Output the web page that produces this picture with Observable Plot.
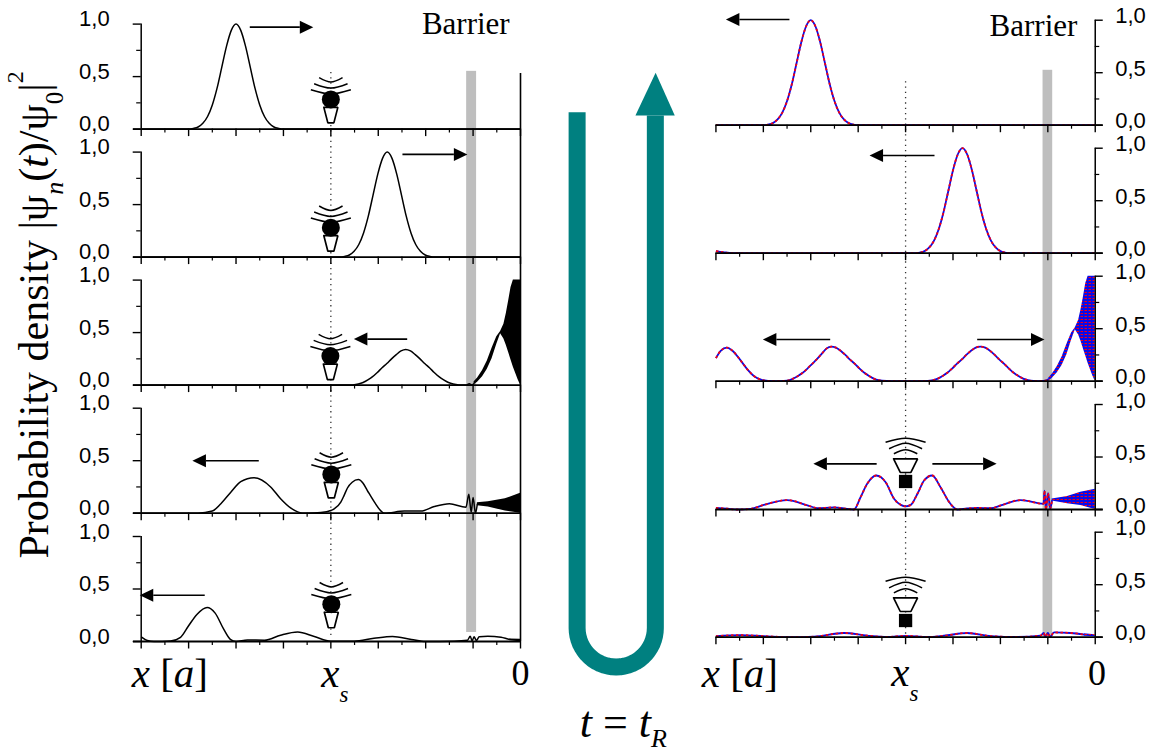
<!DOCTYPE html>
<html>
<head>
<meta charset="utf-8">
<style>html,body{margin:0;padding:0;background:#fff}svg{display:block}</style>
<script src="https://cdn.jsdelivr.net/npm/d3@7"></script>
<script src="https://cdn.jsdelivr.net/npm/@observablehq/plot@0.6"></script>
</head>
<body>
<div id="chart"></div>
<script>
// Probability density curves: [x in a, |psi|^2]
const leftRow0 = [[-8,0],[-7,0],[-6.9,.006],[-6.8,.02],[-6.7,.055],[-6.6,.12],[-6.5,.23],[-6.4,.39],[-6.3,.59],[-6.2,.79],[-6.1,.94],[-6,1],[-5.9,.94],[-5.8,.79],[-5.7,.59],[-5.6,.39],[-5.5,.23],[-5.4,.12],[-5.3,.055],[-5.2,.02],[-5.1,.006],[-5,0],[0,0]];
const leftRow1 = [[-8,0],[-3.81,0],[-3.71,.006],[-3.61,.02],[-3.51,.055],[-3.41,.12],[-3.31,.23],[-3.21,.39],[-3.11,.59],[-3.01,.79],[-2.91,.94],[-2.81,1],[-2.71,.94],[-2.61,.79],[-2.51,.59],[-2.41,.39],[-2.31,.23],[-2.21,.12],[-2.11,.055],[-2.01,.02],[-1.91,.006],[-1.81,0],[0,0]];
const leftRow2 = [[-8,0],[-3.67,0],[-3.54,.002],[-3.42,.01],[-3.32,.025],[-3.22,.05],[-3.12,.08],[-3.02,.12],[-2.92,.165],[-2.82,.205],[-2.72,.25],[-2.62,.29],[-2.52,.325],[-2.42,.34],[-2.32,.325],[-2.22,.29],[-2.12,.25],[-2.02,.205],[-1.92,.165],[-1.82,.12],[-1.72,.08],[-1.62,.05],[-1.52,.025],[-1.42,.01],[-1.3,.002],[-1.15,0],[-1.08,.012],[-1.03,.0],[-.98,.015]];
const leftRow3 = [[-8,0],[-6.8,0],[-6.5,.02],[-6.32,.09],[-6.11,.2],[-5.9,.3],[-5.62,.337],[-5.27,.25],[-5.06,.137],[-4.85,.05],[-4.7,.013],[-4.6,0],[-4.49,0],[-4.21,.006],[-4,.025],[-3.93,.04],[-3.79,.105],[-3.72,.17],[-3.65,.24],[-3.55,.295],[-3.42,.32],[-3.32,.285],[-3.23,.216],[-3.08,.105],[-2.94,.02],[-2.87,0],[-2.45,.02],[-2.1,.02],[-1.82,.063],[-1.5,.09],[-1.15,.057],[-1.09,.18],[-1.04,.01],[-1,.15],[-.95,0],[-.91,.09]];
const leftRow4 = [[-8,.045],[-7.87,.01],[-7.73,0],[-7.38,.005],[-7.17,.04],[-7,.15],[-6.82,.26],[-6.61,.324],[-6.44,.27],[-6.26,.117],[-6.12,.02],[-6,0],[-5.76,.015],[-5.4,.012],[-5.06,.06],[-4.7,.09],[-4.35,.048],[-4,.003],[-3.51,.003],[-3.09,.03],[-2.7,.048],[-2.3,.02],[-2,0],[-1.4,.003],[-1.12,.012],[-1.06,.05],[-1.02,.005],[-.98,.045],[-.93,.01],[-.87,.045],[-.69,.05],[-.41,.04],[-.23,.02],[0,.012]];
const rightRow0 = [[-8,0],[-7,0],[-6.9,.006],[-6.8,.02],[-6.7,.055],[-6.6,.12],[-6.5,.23],[-6.4,.39],[-6.3,.59],[-6.2,.79],[-6.1,.94],[-6,1],[-5.9,.94],[-5.8,.79],[-5.7,.59],[-5.6,.39],[-5.5,.23],[-5.4,.12],[-5.3,.055],[-5.2,.02],[-5.1,.006],[-5,0],[0,0]];
const rightRow1 = [[-8,.02],[-7.85,.01],[-7.65,0],[-3.8,0],[-3.7,.006],[-3.6,.02],[-3.5,.055],[-3.4,.12],[-3.3,.23],[-3.2,.39],[-3.1,.59],[-3,.79],[-2.9,.94],[-2.8,1],[-2.7,.94],[-2.6,.79],[-2.5,.59],[-2.4,.39],[-2.3,.23],[-2.2,.12],[-2.1,.055],[-2,.02],[-1.9,.006],[-1.8,0],[0,0]];
const rightRow2 = [[-8,.22],[-7.9,.29],[-7.77,.32],[-7.65,.29],[-7.5,.21],[-7.35,.12],[-7.2,.05],[-7.05,.015],[-6.9,.003],[-6.7,0],[-6.57,.002],[-6.45,.01],[-6.37,.025],[-6.27,.05],[-6.17,.08],[-6.07,.12],[-5.97,.165],[-5.87,.21],[-5.77,.26],[-5.67,.31],[-5.57,.33],[-5.47,.32],[-5.37,.29],[-5.27,.25],[-5.17,.205],[-5.07,.165],[-4.97,.12],[-4.87,.08],[-4.77,.05],[-4.67,.025],[-4.57,.01],[-4.4,.002],[-4.2,0],[-3.67,0],[-3.54,.002],[-3.42,.01],[-3.32,.025],[-3.22,.05],[-3.12,.08],[-3.02,.12],[-2.92,.165],[-2.82,.205],[-2.72,.25],[-2.62,.29],[-2.52,.32],[-2.42,.33],[-2.32,.32],[-2.22,.29],[-2.12,.25],[-2.02,.205],[-1.92,.165],[-1.82,.12],[-1.72,.08],[-1.62,.05],[-1.52,.025],[-1.42,.01],[-1.3,.002],[-1.15,0],[-1.03,.008],[-.98,.02]];
const rightRow3 = [[-8,.015],[-7.76,.008],[-7.55,0],[-7.27,.006],[-6.99,.044],[-6.5,.09],[-6.07,.04],[-5.86,.013],[-5.51,.02],[-5.23,.006],[-5.09,0],[-4.95,.117],[-4.81,.245],[-4.62,.324],[-4.42,.26],[-4.24,.1],[-4.1,.044],[-4,.03],[-3.89,.044],[-3.75,.15],[-3.61,.276],[-3.44,.324],[-3.26,.21],[-3.08,.07],[-2.91,0],[-2.7,.01],[-2.49,.015],[-2.2,.012],[-1.99,.04],[-1.57,.09],[-1.09,.054],[-1.07,.18],[-1.04,0],[-.995,.155],[-.95,.01],[-.91,.09]];
const rightRow4 = [[-8,.01],[-7.48,.02],[-6.99,.01],[-6.42,0],[-5.93,.005],[-5.3,.04],[-4.81,.015],[-4.39,.002],[-4,.013],[-3.54,.002],[-3.19,.014],[-2.7,.04],[-2.2,.01],[-1.64,.002],[-1.15,.015],[-1.09,.04],[-1.05,.005],[-1,.04],[-.95,.005],[-.87,.045],[-.52,.04],[-.23,.025]];

// Dense oscillation regions, as envelopes: [x, lower, upper]
const band2 = [[-.98,0,.03],[-.9,.03,.07],[-.8,.08,.14],[-.7,.15,.23],[-.6,.25,.35],[-.5,.39,.46],[-.42,.49,.51],[-.35,.44,.58],[-.3,.38,.68],[-.25,.31,.8],[-.2,.24,.93],[-.15,.17,1],[-.1,.11,1],[-.05,.05,1],[0,0,1]];
const leftBand3 = [[-.91,.07,.1],[-.68,.06,.11],[-.32,.02,.137],[0,0,.19]];
const leftBand4 = [[-.23,.012,.025],[0,.004,.022]];
const rightBand3 = [[-.91,.08,.1],[-.584,.054,.124],[-.305,.038,.165],[0,0,.194]];
const rightBand4 = [[-.23,.008,.032],[0,.004,.024]];

const yTickLabels = [[0,"0,0"],[.5,"0,5"],[1,"1,0"]];
const minorY = [.25,.75];
const majorX = [-8,-7,-6,-5,-4,-3,-2,-1,0];
const minorX = [-7.5,-6.5,-5.5,-4.5,-3.5,-2.5,-1.5,-.5];

// Layout of the figure, in data units of the bottom left panel
const colShift = [0, 12.122];
const rowShift = [[4.88,3.661,2.442,1.222,0],[4.917,3.698,2.479,1.257,.041]];
const pxX = 47.4, pxY = 105;   // pixels per data unit

const place = (c,r,pts) => pts.map(([x,v]) => ({x:x+colShift[c], y:v+rowShift[c][r]}));
const placeBand = (c,r,pts) => pts.map(([x,a,b]) => ({x:x+colShift[c], y1:a+rowShift[c][r], y2:b+rowShift[c][r]}));

const leftCurves = [leftRow0,leftRow1,leftRow2,leftRow3,leftRow4];
const rightCurves = [rightRow0,rightRow1,rightRow2,rightRow3,rightRow4];
const leftLines = leftCurves.flatMap((p,r)=>place(0,r,p).map(d=>({...d,z:r})));
const rightLines = rightCurves.flatMap((p,r)=>place(1,r,p).map(d=>({...d,z:r})));
const lineOpt = {x:"x",y:"y",z:"z",curve:"monotone-x",strokeLinecap:"butt"};

const rows = [0,1,2,3,4];
const ticks = [];   // axis frames built from the tick lists
const hRules = [], vRules = [];
for (const c of [0,1]) for (const r of rows) {
  const s = colShift[c], o = rowShift[c][r];
  const major = 7.5/pxY, minor = 4/pxY;
  hRules.push({x1:(c?-8:-8-7.7/pxX)+s, x2:(c?8/pxX:0)+s, y:o, w:1.8});
  for (const x of majorX) vRules.push({x:x+s,y1:o-major,y2:o,w:1.4});
  for (const x of minorX) vRules.push({x:x+s,y1:o-minor,y2:o,w:1.2});
  const ax = (c?0:-8)+s, sgn = c?1:-1;
  vRules.push({x:ax,y1:o,y2:o+1,w:1.5});
  for (const [v] of yTickLabels) hRules.push({x1:ax,x2:ax+sgn*8/pxX,y:o+v,w:1.4});
  for (const v of minorY) hRules.push({x1:ax,x2:ax+sgn*4.5/pxX,y:o+v,w:1.2});
  for (const [v,t] of yTickLabels) ticks.push({x:ax,y:o+v,t,c});
}
vRules.push({x:0,y1:0,y2:5.41,w:1.6});

// Arrows: [column, row, tail x, tip x, level]
const arrows = [[0,0,-5.71,-4.37,.971],[0,1,-2.49,-1.12,.978],[0,2,-2.39,-3.515,.438],[0,3,-5.52,-6.92,.5],[0,4,-6.66,-8.03,.44],
  [1,0,-6.45,-7.79,1.007],[1,1,-3.39,-4.76,.93],[1,2,-5.59,-7.01,.397],[1,2,-2.49,-1.07,.397],[1,3,-4.61,-5.945,.435],[1,3,-3.435,-2.08,.435]];
const shafts = [], heads = [];
arrows.forEach(([c,r,a,b,v],i)=>{
  const s=colShift[c], o=rowShift[c][r]+v, dir=Math.sign(b-a), L=13.5/pxX, H=6.5/pxY;
  shafts.push({x:a+s,y:o,z:i},{x:b+s-dir*L,y:o,z:i});
  heads.push({x:b+s,y:o,z:i},{x:b+s-dir*L,y:o+H,z:i},{x:b+s-dir*L,y:o-H,z:i});
});

// Source icons: [column, row, x, level]
const lampIcons = [[0,0,-4,.283],[0,1,-4,.28],[0,2,-4.01,.276],[0,3,-3.99,.369],[0,4,-3.99,.355]];
const speakerIcons = [[1,3,-4,.267],[1,4,-4,.159]];
const lampArcs = [[-11.7,-21.7,0,-17.3,11.7,-21.7],[-16.7,-15.7,0,-11.3,16.7,-15.7],[-20,-9.7,0,-5.5,20,-9.7]];
const speakerArcs = [[-11.7,-27.7,0,-31.7,11.7,-27.7],[-16.5,-32.7,0,-38.3,16.5,-32.7],[-20,-39.3,0,-43.3,20,-39.3]];
const lampCone = [[-7,8],[7,8],[3,23.5],[-3,23.5],[-7,8]];
const speakerCone = [[-12,-22.7],[12,-22.7],[5.3,-9],[-5.3,-9],[-12,-22.7]];
const offs = (c,r,x,v,dx,dy) => ({x:x+colShift[c]+dx/pxX, y:v+rowShift[c][r]-dy/pxY});
const arcPts = [], conePts = [], circles = [], squares = [];
let id=0;
for (const [c,r,x,v] of lampIcons) {
  circles.push(offs(c,r,x,v,0,0));
  for (const a of lampArcs) { id++; [0,2,4].forEach(i=>arcPts.push({...offs(c,r,x,v,a[i],a[i+1]),z:id})); }
  id++; lampCone.forEach(p=>conePts.push({...offs(c,r,x,v,p[0],p[1]),z:id}));
}
for (const [c,r,x,v] of speakerIcons) {
  squares.push(offs(c,r,x,v,0,0));
  for (const a of speakerArcs) { id++; [0,2,4].forEach(i=>arcPts.push({...offs(c,r,x,v,a[i],a[i+1]),z:id})); }
  id++; speakerCone.forEach(p=>conePts.push({...offs(c,r,x,v,p[0],p[1]),z:id}));
}

// Time arrow between the columns: a U-shaped pictogram, not data
const teal = "#008080";
const uCx = 2.019, uRx = .825, uCy = .129, uRy = .372;
const uBend = d3.range(180,-1,-6).map(a=>[uCx+uRx*Math.cos(a*Math.PI/180), uCy-uRy*Math.sin(a*Math.PI/180)]);
const uPath = [[uCx-uRx,5.041],...uBend,[uCx+uRx,5.01]];
const uHead = [[2.424,5.01],[3.254,5.01],[2.85,5.416]];

const serif = "Liberation Serif", sans = "Liberation Sans";
const defs = () => {
  const d = d3.create("svg:defs");
  const p = d.append("pattern").attr("id","rb").attr("patternUnits","userSpaceOnUse").attr("width",4).attr("height",3);
  p.append("rect").attr("width",4).attr("height",3).attr("fill","#0a0ae6");
  p.append("rect").attr("x",.5).attr("y",1).attr("width",2.5).attr("height",1).attr("fill","#f5000f");
  return d.node();
};

const lbl = (data,o) => Plot.text(data,{x:"x",y:"y",text:"t",lineAnchor:"bottom",textAnchor:"start",fill:"black",...o});

const chart = Plot.plot({
  width:1168, height:754, margin:0,
  x:{domain:[-8,0],range:[140.7,520],axis:null},
  y:{domain:[0,1],range:[641,536],axis:null},
  style:{background:"#fff"},
  marks:[
    defs,
    Plot.rect([{x1:-1.136,x2:-.926,y1:.086,y2:5.43},{x1:-1.101+12.122,x2:-.897+12.122,y1:.04,y2:5.44}],{x1:"x1",x2:"x2",y1:"y1",y2:"y2",fill:"#bebebe"}),
    Plot.ruleX([{x:-4,y1:.057,y2:5.43},{x:-4+12.122,y1:.07,y2:5.362}],{x:"x",y1:"y1",y2:"y2",stroke:"#333",strokeWidth:1.3,strokeDasharray:"1.3,4"}),
    // probability curves
    Plot.line(leftLines,{...lineOpt,stroke:"black",strokeWidth:1.5}),
    Plot.areaY(placeBand(0,2,band2),{x:"x",y1:"y1",y2:"y2",fill:"black"}),
    Plot.areaY(placeBand(0,3,leftBand3),{x:"x",y1:"y1",y2:"y2",fill:"black"}),
    Plot.areaY(placeBand(0,4,leftBand4),{x:"x",y1:"y1",y2:"y2",fill:"black"}),
    Plot.line(rightLines,{...lineOpt,stroke:"#0a0ae6",strokeWidth:1.8}),
    Plot.line(rightLines,{...lineOpt,stroke:"#f5000f",strokeWidth:1.8,strokeDasharray:"2.5,2.5"}),
    Plot.areaY(placeBand(1,2,band2),{x:"x",y1:"y1",y2:"y2",fill:"url(#rb)"}),
    Plot.areaY(placeBand(1,3,rightBand3),{x:"x",y1:"y1",y2:"y2",fill:"url(#rb)"}),
    Plot.areaY(placeBand(1,4,rightBand4),{x:"x",y1:"y1",y2:"y2",fill:"url(#rb)"}),
    // axes
    Plot.ruleY(hRules,{y:"y",x1:"x1",x2:"x2",stroke:"black",strokeWidth:"w"}),
    Plot.ruleX(vRules,{x:"x",y1:"y1",y2:"y2",stroke:"black",strokeWidth:"w"}),
    lbl(ticks.filter(d=>d.c===0),{textAnchor:"end",lineAnchor:"middle",dx:-31.5,dy:-5,fontFamily:sans,fontSize:22}),
    lbl(ticks.filter(d=>d.c===1),{textAnchor:"start",lineAnchor:"middle",dx:20,dy:-4,fontFamily:sans,fontSize:22}),
    // icons
    Plot.line(arcPts,{x:"x",y:"y",z:"z",curve:"natural",stroke:"black",strokeWidth:1.5,strokeLinecap:"butt"}),
    Plot.line(conePts,{x:"x",y:"y",z:"z",stroke:"black",strokeWidth:1.7,fill:"white",strokeLinejoin:"miter"}),
    Plot.dot(circles,{x:"x",y:"y",r:9,fill:"black"}),
    Plot.dot(squares,{x:"x",y:"y",r:7.5,symbol:"square",fill:"black"}),
    // arrows
    Plot.line(shafts,{x:"x",y:"y",z:"z",stroke:"black",strokeWidth:1.6,strokeLinecap:"butt"}),
    Plot.line(heads,{x:"x",y:"y",z:"z",fill:"black",stroke:"none"}),
    // time arrow
    Plot.line(uPath,{stroke:teal,strokeWidth:17,strokeLinecap:"butt",strokeLinejoin:"round"}),
    Plot.line(uHead,{fill:teal,stroke:"none"}),
    // labels
    lbl([{t:"Barrier",x:-2.08,y:5.79}],{fontFamily:serif,fontSize:31}),
    lbl([{t:"Barrier",x:9.893,y:5.77}],{fontFamily:serif,fontSize:31}),
    lbl([{t:"x [a]",x:-8.2,y:-.43}],{fontFamily:serif,fontSize:41}),
    lbl([{t:"x [a]",x:-8.3+12.122,y:-.43}],{fontFamily:serif,fontSize:41}),
    lbl([{t:"xs",x:-4.2,y:-.43}],{fontFamily:serif,fontSize:41}),
    lbl([{t:"xs",x:-4.3+12.122,y:-.42}],{fontFamily:serif,fontSize:41}),
    lbl([{t:"0",x:0,y:-.41}],{fontFamily:serif,fontSize:36,textAnchor:"middle"}),
    lbl([{t:"0",x:12.16,y:-.41}],{fontFamily:serif,fontSize:36,textAnchor:"middle"}),
    lbl([{t:"t = tR",x:1.25,y:-.91}],{fontFamily:serif,fontSize:44}),
    lbl([{t:"Probability density |ψn(t)/ψ0|2",x:-9.97,y:.79}],{fontFamily:serif,fontSize:42,rotate:-90})
  ]
});
document.getElementById("chart").append(chart);

// Italic, subscript and superscript runs inside the label texts
const rich = {
  "x [a]":[["x",1],[" [",0],["a",1],["]",0]],
  "xs":[["x",1],["s",1,.55,15]],
  "t = tR":[["t",1],[" = ",0],["t",1],["R",1,.6,10]],
  "Probability density |ψn(t)/ψ0|2":[["Probability density |ψ",0],["n",1,.62,15],["(",0],["t",1],[")/ψ",0],["0",0,.6,15],["|",0],["2",0,.56,-25]]
};
d3.select(chart).selectAll("text").each(function(){
  const parts = rich[this.textContent]; if(!parts) return;
  const base = parseFloat(getComputedStyle(this).fontSize);
  const t = d3.select(this); t.text("");
  let prev = 0;
  for (const [s,it,size,shift=0] of parts) {
    const sp = t.append("tspan").text(s).attr("dy",shift-prev);
    if (it) sp.attr("font-style","italic");
    if (size) sp.attr("font-size",Math.round(base*size));
    prev = shift;
  }
});
</script>
</body>
</html>
